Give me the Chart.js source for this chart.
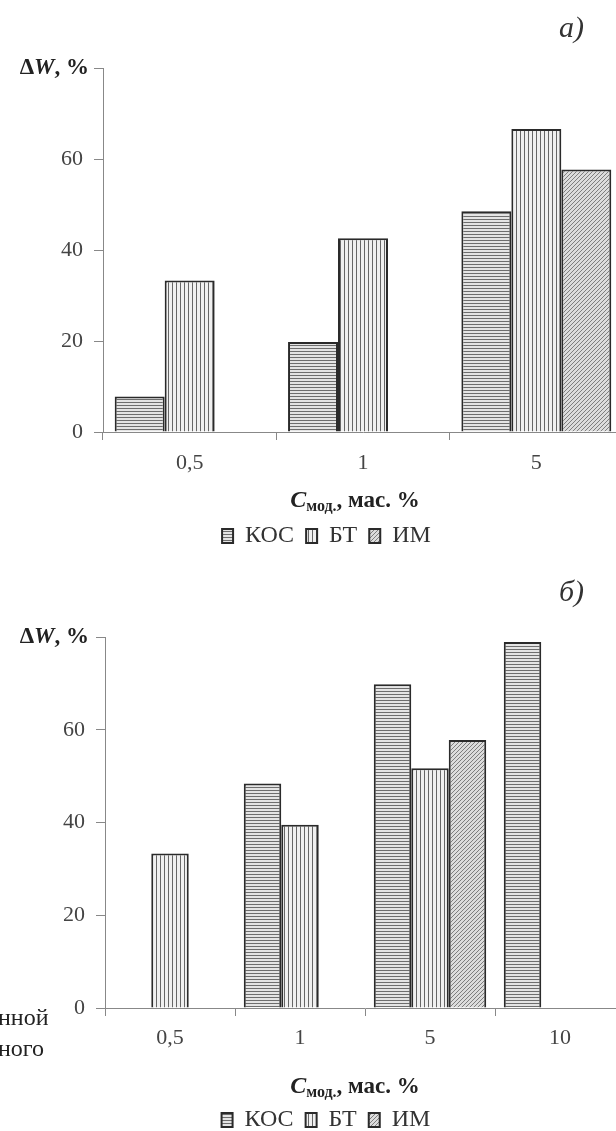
<!DOCTYPE html>
<html>
<head>
<meta charset="utf-8">
<script src="https://cdn.jsdelivr.net/npm/chart.js@4.4.1/dist/chart.umd.min.js"></script>
<style>
  html, body { margin: 0; padding: 0; background: #fff; }
  #page { position: relative; width: 616px; height: 1131px; overflow: hidden; background: #fff; }
  canvas { position: absolute; left: 0; }
  #chartA { top: 0; }
  #chartB { top: 565px; }
  .side { position: absolute; left: -2px; font: 24px "Liberation Serif", serif; color: #222; line-height: 26px; }
</style>
</head>
<body>
<div id="page">
  <canvas id="chartA" width="640" height="565"></canvas>
  <canvas id="chartB" width="640" height="600"></canvas>
  <div class="side" style="top:1004px">нной</div>
  <div class="side" style="top:1035px">ного</div>
</div>
<script>
// series names
var seriesNames = ['КОС', 'БТ', 'ИМ'];

// chart a)
var categoriesA = ['0,5', '1', '5'];
var kosA = [7.8, 19.8, 48.5];
var btA = [33.3, 42.6, 66.6];
var imA = [null, null, 57.7];

// chart б)
var categoriesB = ['0,5', '1', '5', '10'];
var kosB = [null, 48.4, 69.8, 78.9];
var btB = [33.3, 39.5, 51.7, null];
var imB = [null, null, 57.8, null];

// y axis
var yMax = 80;
var yStep = 20;

var serif = '"Liberation Serif", "Times New Roman", serif';

function makePattern(kind) {
  var c = document.createElement('canvas');
  var g = c.getContext('2d');
  if (kind === 'h') {
    c.width = 4; c.height = 3;
    g.fillStyle = '#e4e4e4'; g.fillRect(0, 0, 4, 3);
    g.fillStyle = '#6e6e6e'; g.fillRect(0, 0, 4, 1);
  } else if (kind === 'v') {
    c.width = 4; c.height = 4;
    g.fillStyle = '#f0f0f0'; g.fillRect(0, 0, 4, 4);
    g.fillStyle = '#666'; g.fillRect(0, 0, 1, 4);
  } else {
    c.width = 4; c.height = 4;
    g.fillStyle = '#dcdcdc'; g.fillRect(0, 0, 4, 4);
    g.fillStyle = '#7e7e7e';
    for (var i = 0; i < 4; i++) g.fillRect(i, 3 - i, 1, 1);
  }
  return g.createPattern(c, 'repeat');
}
var fills = [makePattern('h'), makePattern('v'), makePattern('d')];

function drawParts(ctx, parts, x, y, align) {
  var total = 0;
  parts.forEach(function(p) { ctx.font = p.font; p.w = ctx.measureText(p.text).width; total += p.w; });
  var cx = align === 'right' ? x - total : (align === 'center' ? x - total / 2 : x);
  parts.forEach(function(p) {
    ctx.font = p.font;
    ctx.fillText(p.text, cx, y + (p.dy || 0));
    cx += p.w;
  });
}

// axis caption, y label and panel letter
var extraText = {
  id: 'extraText',
  afterDraw: function(chart, args, opts) {
    var ctx = chart.ctx;
    var yTop = chart.scales.y.getPixelForValue(yMax);
    ctx.save();
    ctx.textBaseline = 'middle';
    ctx.fillStyle = '#222';
    drawParts(ctx, [
      { text: 'Δ', font: 'bold 23px ' + serif },
      { text: 'W', font: 'italic bold 23px ' + serif },
      { text: ', %', font: 'bold 23px ' + serif }
    ], opts.yLabelRight, yTop, 'right');
    drawParts(ctx, [
      { text: 'C', font: 'italic bold 24px ' + serif },
      { text: 'мод.', font: 'bold 16px ' + serif, dy: 6 },
      { text: ', мас. %', font: 'bold 23px ' + serif }
    ], opts.titleX, opts.titleY, 'center');
    ctx.fillStyle = '#333';
    drawParts(ctx, [{ text: opts.letter, font: 'italic 30px ' + serif }], opts.letterX, opts.letterY, 'right');
    ctx.restore();
  }
};

function makeChart(id, labels, kos, bt, im, lay) {
  var ctx = document.getElementById(id).getContext('2d');
  var values = [kos, bt, im];
  return new Chart(ctx, {
    type: 'bar',
    data: {
      labels: labels,
      datasets: seriesNames.map(function(name, i) {
        return {
          label: name,
          data: values[i],
          backgroundColor: fills[i],
          borderColor: '#2a2a2a',
          borderWidth: 2,
          categoryPercentage: 0.865,
          barPercentage: 1
        };
      })
    },
    options: {
      responsive: false,
      animation: false,
      layout: { padding: { top: lay.top, left: lay.left, right: lay.right, bottom: lay.bottom } },
      plugins: {
        tooltip: { enabled: false },
        legend: {
          position: 'bottom',
          labels: {
            boxWidth: 11,
            boxHeight: 14,
            padding: 12,
            color: '#333',
            font: { family: serif, size: 24 }
          }
        },
        extraText: lay.text
      },
      scales: {
        x: {
          grid: { drawOnChartArea: false, drawTicks: true, tickLength: 8, color: '#888' },
          border: { color: '#888', width: 1 },
          ticks: { color: '#444', padding: lay.xPad, font: { family: serif, size: 22 } },
          afterFit: function(s) { s.height = lay.xHeight; }
        },
        y: {
          min: 0,
          max: yMax,
          grid: { drawOnChartArea: false, drawTicks: true, tickLength: 9, color: '#888' },
          border: { color: '#888', width: 1 },
          ticks: {
            stepSize: yStep,
            color: '#444',
            padding: 11,
            font: { family: serif, size: 22 },
            callback: function(v) { return v === yMax ? '' : v; }
          },
          afterFit: function(s) { s.width = lay.yWidth; }
        }
      }
    },
    plugins: [extraText]
  });
}

// legend: itemHeight 24 + padding 12 + 10 -> 46 px tall, text centre at top + 24
makeChart('chartA', categoriesA, kosA, btA, imA, {
  top: 68, left: 30, right: 17, bottom: 7, xHeight: 80, yWidth: 73, xPad: 10,
  text: { yLabelRight: 89, titleX: 355, titleY: 501, letter: 'а)', letterX: 584, letterY: 29 }
});

makeChart('chartB', categoriesB, kosB, btB, imB, {
  top: 72, left: 27, right: 15, bottom: 23, xHeight: 88, yWidth: 78, xPad: 9,
  text: { yLabelRight: 89, titleX: 355, titleY: 522, letter: 'б)', letterX: 584, letterY: 28 }
});
</script>
</body>
</html>
